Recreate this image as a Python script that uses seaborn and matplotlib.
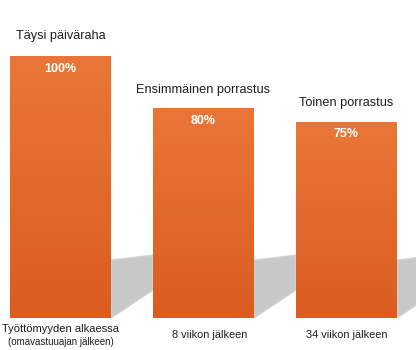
import numpy as np
import pandas as pd
import matplotlib
matplotlib.use("Agg")
import matplotlib.pyplot as plt
import matplotlib.transforms as mtransforms
from matplotlib.colors import LinearSegmentedColormap
from matplotlib.patches import Polygon
import seaborn as sns

# Data
stages = ["Täysi päiväraha", "Ensimmäinen porrastus", "Toinen porrastus"]
periods = ["Työttömyyden alkaessa", "8 viikon jälkeen", "34 viikon jälkeen"]
period_notes = ["(omavastuuajan jälkeen)", "", ""]
share = [100, 80, 75]

df = pd.DataFrame({"period": periods, "share": share})

sns.set_theme(style="white")
plt.rcParams["font.family"] = ["Liberation Sans", "DejaVu Sans"]

fig = plt.figure(figsize=(4.16, 3.5), dpi=100)
fig.patch.set_facecolor("white")
ax = fig.add_axes([0, 32 / 350, 1, 318 / 350])

sns.barplot(data=df, x="period", y="share", ax=ax, width=0.706,
            color="#E46A2C", saturation=1, edgecolor="none", zorder=3)

ax.set_xlim(-0.423, 2.486)
ax.set_ylim(0, 121.4)
ax.axis("off")

# Vertical orange gradient inside each bar
grad = LinearSegmentedColormap.from_list("bar", ["#DB5C20", "#E97638"])
gimg = np.linspace(0, 1, 256).reshape(-1, 1)
bars = list(ax.patches)
for p in bars:
    x0, y0 = p.get_x(), p.get_y()
    w, h = p.get_width(), p.get_height()
    p.set_facecolor("none")
    im = ax.imshow(gimg, cmap=grad, origin="lower", aspect="auto",
                   extent=(x0, x0 + w, y0, y0 + h), zorder=3,
                   interpolation="bilinear")
    im.set_clip_path(p)

# Soft cast shadows to the right of each bar
gap = 1 - 0.706
for p in bars:
    xr = p.get_x() + p.get_width()
    poly = Polygon([(xr, 0), (xr, 22.1), (xr + gap, 24.0), (xr + gap, 10.7)],
                   closed=True, facecolor="#C8C8C8", edgecolor="#D3D3D3",
                   linewidth=1.0, zorder=1)
    ax.add_patch(poly)

ax.set_xlim(-0.423, 2.486)
ax.set_ylim(0, 121.4)

# Stage titles above bars and percentage labels inside
for i, p in enumerate(bars):
    cx = p.get_x() + p.get_width() / 2
    top = share[i]
    ax.text(cx, top + (7.6 if i == 0 else 7.0), stages[i], ha="center",
            va="center", fontsize=9.2, color="#1E1E1E", zorder=5)
    ax.text(cx, top - 4.9, f"{share[i]}%", ha="center", va="center",
            fontsize=9, fontweight="bold", color="white", zorder=5)

# Period labels below bars
trans = mtransforms.blended_transform_factory(ax.transData, fig.transFigure)
label_shift = [0.0, 0.04, 0.0]
for i, p in enumerate(bars):
    cx = p.get_x() + p.get_width() / 2 + label_shift[i]
    if period_notes[i]:
        ax.text(cx, 1 - 329.5 / 350, periods[i], transform=trans, ha="center",
                va="center", fontsize=8.0, color="#1E1E1E")
        ax.text(cx, 1 - 342 / 350, period_notes[i], transform=trans,
                ha="center", va="center", fontsize=7, color="#1E1E1E")
    else:
        ax.text(cx, 1 - 334.5 / 350, periods[i], transform=trans, ha="center",
                va="center", fontsize=7.9, color="#1E1E1E")

fig.savefig("out.png", dpi=100, facecolor="white")
